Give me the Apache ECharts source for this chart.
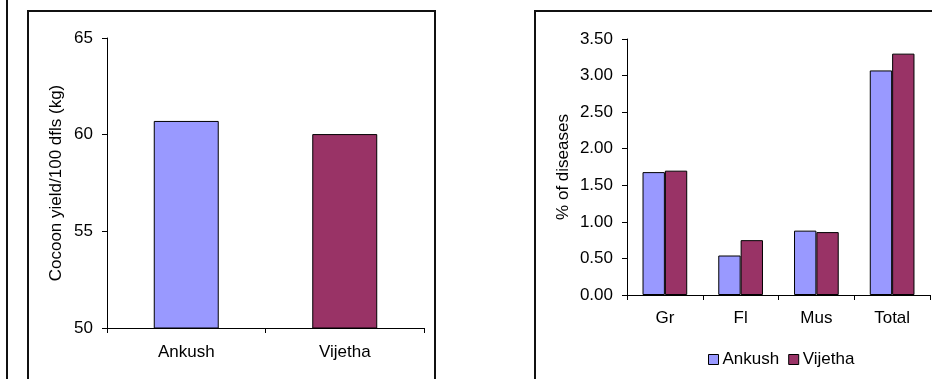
<!DOCTYPE html>
<html>
<head>
<meta charset="utf-8">
<script src="https://cdn.jsdelivr.net/npm/echarts@6/dist/echarts.min.js"></script>
<style>
html,body{margin:0;padding:0;background:#fff;}
#c{width:932px;height:379px;}
</style>
</head>
<body>
<div id="c"></div>
<script>
// Left chart data
const yieldCategories = ['Ankush', 'Vijetha'];
const yieldValues = [60.71, 60.03];
const yieldTicks = [50, 55, 60, 65];

// Right chart data
const diseaseCategories = ['Gr', 'Fl', 'Mus', 'Total'];
const ankushDisease = [1.68, 0.54, 0.88, 3.07];
const vijethaDisease = [1.70, 0.75, 0.86, 3.30];
const diseaseTicks = [0, 0.5, 1, 1.5, 2, 2.5, 3, 3.5];

const seriesNames = ['Ankush', 'Vijetha'];
const colors = ['#9999FF', '#993366'];

const FONT = 'Liberation Sans, Arial, sans-serif';
const FS = 17;
const axisLineStyle = {color: '#000', width: 1};

const chart = echarts.init(document.getElementById('c'), null, {renderer: 'canvas'});
chart.setOption({
  backgroundColor: '#fff',
  animation: false,
  textStyle: {fontFamily: FONT, color: '#000'},
  graphic: [
    {type: 'line', shape: {x1: 7, y1: 0, x2: 7, y2: 379}, style: {stroke: '#111', lineWidth: 2}},
    {type: 'polyline', shape: {points: [[28, 379], [28, 11], [435, 11], [435, 379]]}, style: {stroke: '#111', lineWidth: 2, fill: null}},
    {type: 'polyline', shape: {points: [[535, 379], [535, 11], [932, 11]]}, style: {stroke: '#111', lineWidth: 2, fill: null}}
  ],
  grid: [
    {left: 107, top: 38, width: 317, height: 290},
    {left: 627, top: 39, width: 303, height: 256}
  ],
  legend: {
    data: [
      {name: 'Ankush', itemStyle: {color: colors[0], borderColor: '#000', borderWidth: 1}},
      {name: 'Vijetha', itemStyle: {color: colors[1], borderColor: '#000', borderWidth: 1}}
    ],
    left: 703, top: 346,
    icon: 'rect', itemWidth: 10, itemHeight: 10, itemGap: 9,
    textStyle: {fontFamily: FONT, fontSize: FS, color: '#000', padding: [0, 0, 0, -1]}
  },
  xAxis: [
    {
      type: 'category', gridIndex: 0, data: yieldCategories,
      axisLine: {show: true, lineStyle: axisLineStyle},
      axisTick: {show: true, interval: 0, lineStyle: axisLineStyle, length: 5},
      axisLabel: {fontFamily: FONT, fontSize: FS, color: '#000', margin: 16}
    },
    {
      type: 'category', gridIndex: 1, data: diseaseCategories,
      axisLine: {show: true, lineStyle: axisLineStyle},
      axisTick: {show: true, interval: 0, lineStyle: axisLineStyle, length: 5},
      axisLabel: {fontFamily: FONT, fontSize: FS, color: '#000', margin: 15}
    }
  ],
  yAxis: [
    {
      type: 'value', gridIndex: 0,
      min: yieldTicks[0], max: yieldTicks[yieldTicks.length - 1], interval: yieldTicks[1] - yieldTicks[0],
      name: 'Cocoon yield/100 dfls (kg)', nameLocation: 'middle', nameGap: 42, nameRotate: 90,
      nameTextStyle: {fontFamily: FONT, fontSize: FS, color: '#000'},
      axisLine: {show: true, lineStyle: axisLineStyle},
      axisTick: {show: true, lineStyle: axisLineStyle, length: 5},
      splitLine: {show: false},
      axisLabel: {fontFamily: FONT, fontSize: FS, color: '#000', margin: 14}
    },
    {
      type: 'value', gridIndex: 1,
      min: diseaseTicks[0], max: diseaseTicks[diseaseTicks.length - 1], interval: diseaseTicks[1] - diseaseTicks[0],
      name: '% of diseases', nameLocation: 'middle', nameGap: 55, nameRotate: 90,
      nameTextStyle: {fontFamily: FONT, fontSize: FS, color: '#000'},
      axisLine: {show: true, lineStyle: axisLineStyle},
      axisTick: {show: true, lineStyle: axisLineStyle, length: 5},
      splitLine: {show: false},
      axisLabel: {fontFamily: FONT, fontSize: FS, color: '#000', margin: 14, formatter: v => v.toFixed(2)}
    }
  ],
  series: [
    {
      type: 'bar', xAxisIndex: 0, yAxisIndex: 0, barWidth: '41%',
      data: yieldValues.map((v, i) => ({value: v, itemStyle: {color: colors[i]}})),
      itemStyle: {borderColor: '#000', borderWidth: 1}
    },
    {
      name: seriesNames[0], type: 'bar', xAxisIndex: 1, yAxisIndex: 1,
      data: ankushDisease, barGap: '0%', barCategoryGap: '41%',
      itemStyle: {color: colors[0], borderColor: '#000', borderWidth: 1}
    },
    {
      name: seriesNames[1], type: 'bar', xAxisIndex: 1, yAxisIndex: 1,
      data: vijethaDisease, barGap: '0%', barCategoryGap: '41%',
      itemStyle: {color: colors[1], borderColor: '#000', borderWidth: 1}
    }
  ]
});
</script>
</body>
</html>
